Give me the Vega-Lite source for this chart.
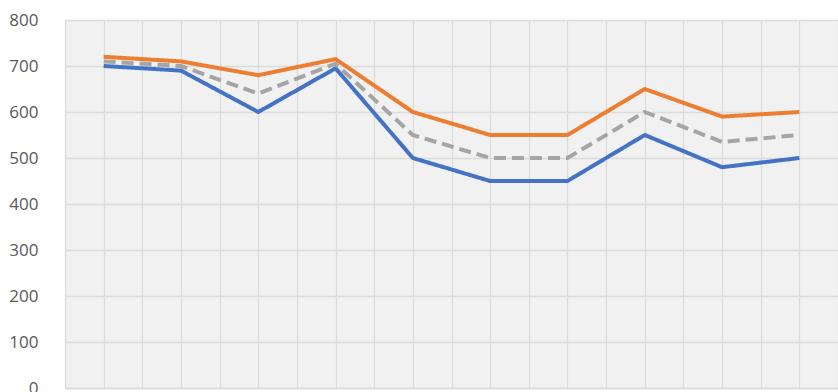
{
  "$schema": "https://vega.github.io/schema/vega-lite/v6.json",
  "width": 773,
  "height": 368,
  "autosize": {"type": "none"},
  "padding": {"left": 65, "top": 20, "right": 0, "bottom": 4},
  "background": "white",
  "config": {"view": {"stroke": null, "fill": "#f1f1f1"}, "font": "Open Sans"},
  "data": {"values": [
    {"idx": 1, "series": "A", "value": 700},
    {"idx": 2, "series": "A", "value": 690},
    {"idx": 3, "series": "A", "value": 600},
    {"idx": 4, "series": "A", "value": 695},
    {"idx": 5, "series": "A", "value": 500},
    {"idx": 6, "series": "A", "value": 450},
    {"idx": 7, "series": "A", "value": 450},
    {"idx": 8, "series": "A", "value": 550},
    {"idx": 9, "series": "A", "value": 480},
    {"idx": 10, "series": "A", "value": 500},
    {"idx": 1, "series": "B", "value": 720},
    {"idx": 2, "series": "B", "value": 710},
    {"idx": 3, "series": "B", "value": 680},
    {"idx": 4, "series": "B", "value": 715},
    {"idx": 5, "series": "B", "value": 600},
    {"idx": 6, "series": "B", "value": 550},
    {"idx": 7, "series": "B", "value": 550},
    {"idx": 8, "series": "B", "value": 650},
    {"idx": 9, "series": "B", "value": 590},
    {"idx": 10, "series": "B", "value": 600},
    {"idx": 1, "series": "C", "value": 710},
    {"idx": 2, "series": "C", "value": 700},
    {"idx": 3, "series": "C", "value": 640},
    {"idx": 4, "series": "C", "value": 705},
    {"idx": 5, "series": "C", "value": 550},
    {"idx": 6, "series": "C", "value": 500},
    {"idx": 7, "series": "C", "value": 500},
    {"idx": 8, "series": "C", "value": 600},
    {"idx": 9, "series": "C", "value": 535},
    {"idx": 10, "series": "C", "value": 550}
  ]},
  "mark": {"type": "line", "strokeWidth": 4, "strokeJoin": "round"},
  "encoding": {
    "x": {
      "field": "idx", "type": "quantitative",
      "scale": {"domain": [0.5, 10.5], "nice": false, "zero": false},
      "axis": {
        "values": [0.5, 1, 1.5, 2, 2.5, 3, 3.5, 4, 4.5, 5, 5.5, 6, 6.5, 7, 7.5, 8, 8.5, 9, 9.5, 10, 10.5],
        "labels": false, "ticks": false, "domain": true, "domainColor": "#d9d9d9", "domainWidth": 1.5,
        "title": null, "gridColor": "#dcdcdc", "gridWidth": 1.3
      }
    },
    "y": {
      "field": "value", "type": "quantitative",
      "scale": {"domain": [0, 800], "nice": false},
      "axis": {
        "values": [0, 100, 200, 300, 400, 500, 600, 700, 800],
        "title": null, "domain": false, "ticks": false,
        "labelPadding": 27, "labelFontSize": 17, "labelColor": "#595959",
        "gridColor": "#dcdcdc", "gridWidth": 1.3
      }
    },
    "color": {
      "field": "series", "type": "nominal",
      "scale": {"domain": ["A", "B", "C"], "range": ["#4472C4", "#ED7D31", "#A5A5A5"]},
      "legend": null
    },
    "strokeDash": {
      "field": "series", "type": "nominal",
      "scale": {"domain": ["A", "B", "C"], "range": [[1, 0], [1, 0], [12, 6]]},
      "legend": null
    }
  }
}
